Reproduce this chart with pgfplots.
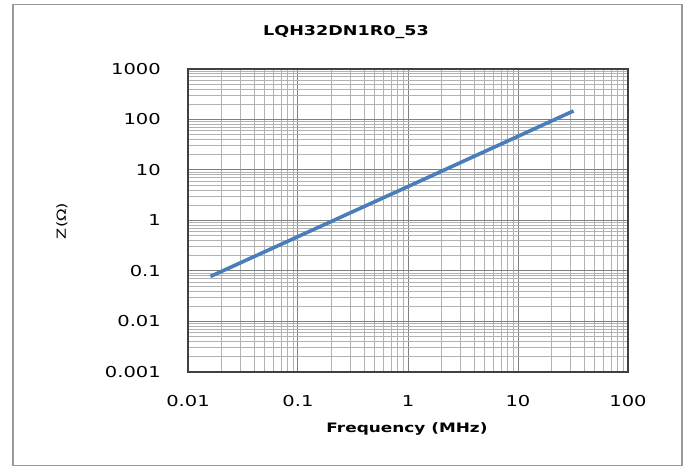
\documentclass[border=0pt]{standalone}
\usepackage{pgfplots}
\pgfplotsset{compat=1.18}
\usepackage{fontspec}
\setmainfont{DejaVu Sans}[FakeStretch=1.3]
\definecolor{zblue}{RGB}{74,126,187}
\begin{document}
\begin{tikzpicture}[x=1pt,y=1pt]
\useasboundingbox (0,0) rectangle (690,468);
\draw[black!40, line width=1.6pt] (13,2.5) rectangle (682,463.5);
\begin{axis}[
  at={(188pt,96pt)}, anchor=south west,
  width=440pt, height=303pt, scale only axis,
  xmode=log, ymode=log,
  xmin=0.01, xmax=100, ymin=0.001, ymax=1000,
  xtick={0.01,0.1,1,10,100},
  xticklabels={0.01,0.1,1,10,100},
  ytick={0.001,0.01,0.1,1,10,100,1000},
  yticklabels={0.001,0.01,0.1,1,10,100,1000},
  minor xtick={0.02,0.03,0.04,0.05,0.06,0.07,0.08,0.09,
               0.2,0.3,0.4,0.5,0.6,0.7,0.8,0.9,
               2,3,4,5,6,7,8,9,
               20,30,40,50,60,70,80,90},
  minor ytick={0.002,0.003,0.004,0.005,0.006,0.007,0.008,0.009,
               0.02,0.03,0.04,0.05,0.06,0.07,0.08,0.09,
               0.2,0.3,0.4,0.5,0.6,0.7,0.8,0.9,
               2,3,4,5,6,7,8,9,
               20,30,40,50,60,70,80,90,
               200,300,400,500,600,700,800,900},
  grid=both,
  major grid style={black!50, line width=1pt},
  minor grid style={black!30, line width=0.85pt},
  major tick length=0pt, minor tick length=0pt,
  axis line style={black!75, line width=1.2pt},
  tick label style={font=\fontsize{15}{15}\selectfont, inner sep=0pt},
  xticklabel style={anchor=north, yshift=-23pt},
  yticklabel style={anchor=east, xshift=-27pt},
]
\addplot[color=zblue, line width=3.6pt] coordinates {(0.016,0.078) (1,4.7) (32,148)};
\end{axis}
\node[font=\bfseries\fontsize{13.5}{13.5}\selectfont] at (346,435.5) {LQH32DN1R0\_53};
\node[font=\bfseries\fontsize{13}{13}\selectfont] at (407,39) {Frequency (MHz)};
\node[font=\fontsize{12.5}{12.5}\selectfont, rotate=90] at (62,247) {Z(Ω)};
\end{tikzpicture}
\end{document}
